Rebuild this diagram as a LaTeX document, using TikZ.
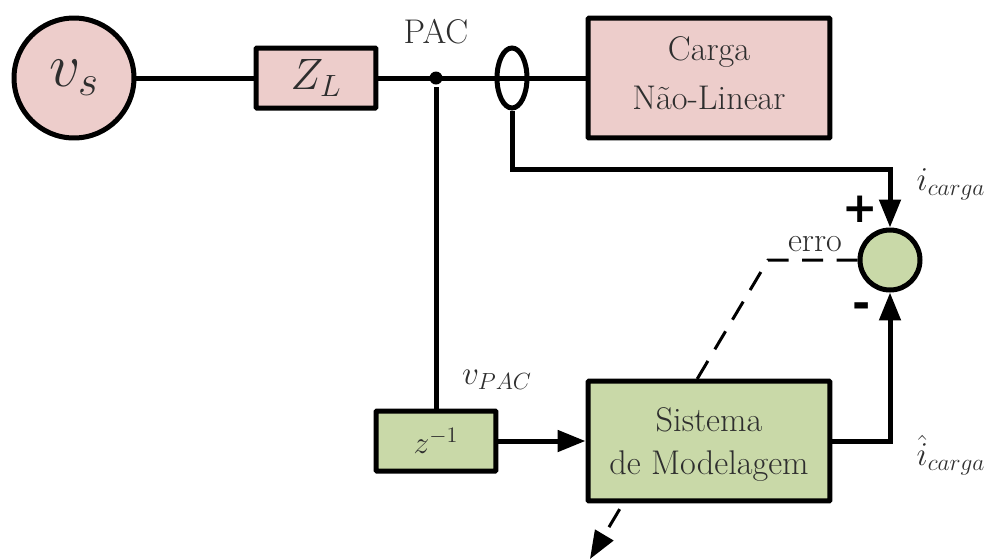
\documentclass[tikz,border=0pt]{standalone}
\usepackage{amsmath}
\usepackage{fix-cm}
\usepackage[no-math]{fontspec}
\usepackage{xcolor}
\usetikzlibrary{arrows.meta,shapes.geometric}
\newfontfamily\sinal{DejaVu Sans Bold}
\definecolor{rosa}{HTML}{EDCDCB}
\definecolor{verde}{HTML}{C9D9A8}
\definecolor{texto}{HTML}{2E2E2E}
\newcommand{\tam}[1]{\fontsize{#1}{#1}\selectfont}
\begin{document}
\begin{tikzpicture}[x=.02cm, y=-.02cm, line width=.1cm, >={Triangle[length=.56cm,width=.42cm]}]
\tikzstyle{bloco} = [draw, rectangle, rounded corners=.02cm, text=texto, inner sep=0cm, align=center]
\tikzstyle{rotulo} = [text=texto, inner sep=0cm]
\useasboundingbox (0,0) rectangle (985,559);
\node [draw, circle, fill=rosa, text=texto, minimum size=2.4cm, inner sep=0cm, font=\tam{35}] (vs) at (74,78) {$v_s$};
\node [bloco, fill=rosa, minimum width=2.4cm, minimum height=1.2cm, font=\tam{25}] (zl) at (316,78) {$Z_L$}
	edge (vs);
\node [bloco, fill=rosa, minimum width=4.84cm, minimum height=2.4cm, font=\tam{19.5}] (carga) at (709,78) {Carga\\[.3cm]Não-Linear\rule[-.2cm]{0pt}{0pt}};
\node [circle, fill=black, minimum size=.26cm, inner sep=0cm] (pac) at (436,78) {};
\draw (zl) -- (carga);
\node [draw, ellipse, minimum width=.6cm, minimum height=1.2cm, inner sep=0cm] (sensor) at (512,78) {};
\node [draw, circle, fill=verde, minimum size=1.2cm, inner sep=0cm] (soma) at (890,260) {};
\coordinate (quina) at (768,260);
\coordinate (fim) at (590,559);
\draw [->, line width=.06cm, dash pattern=on .42cm off .27cm] (soma.west) -- (quina) -- (fim);
\node [bloco, fill=verde, minimum width=4.84cm, minimum height=2.4cm, font=\tam{19.5}] (modelo) at (709,441) {\rule{0pt}{.62cm}Sistema\\[.16cm]de Modelagem};
\node [bloco, fill=verde, minimum width=2.4cm, minimum height=1.2cm, font=\tam{18}] (atraso) at (436,441) {$z^{-1}$}
	edge (pac);
\draw [->] (atraso) -- (modelo);
\coordinate (volta) at (890,169);
\draw [->] (sensor.south) |- (volta) -- (soma.north);
\draw [->] (modelo.east) -| (soma.south);
\node [rotulo, font=\tam{19.5}] (lpac) at (436,32) {PAC};
\node [rotulo, font=\tam{19.5}] (lerro) at (815,244) {erro};
\node [rotulo, font=\tam{19}] (lcarga) at (951,184) {$i_{carga}$};
\node [rotulo, font=\tam{19}] (lhat) at (951,455) {$\hat{i}_{carga}$};
\node [rotulo, font=\tam{19}] (lvpac) at (497,380) {$v_{PAC}$};
\node [inner sep=0cm, font=\tam{24}\sinal] (mais) at (860,209) {+};
\node [inner sep=0cm, font=\tam{25}\sinal] (menos) at (862,311) {-};
\end{tikzpicture}
\end{document}
